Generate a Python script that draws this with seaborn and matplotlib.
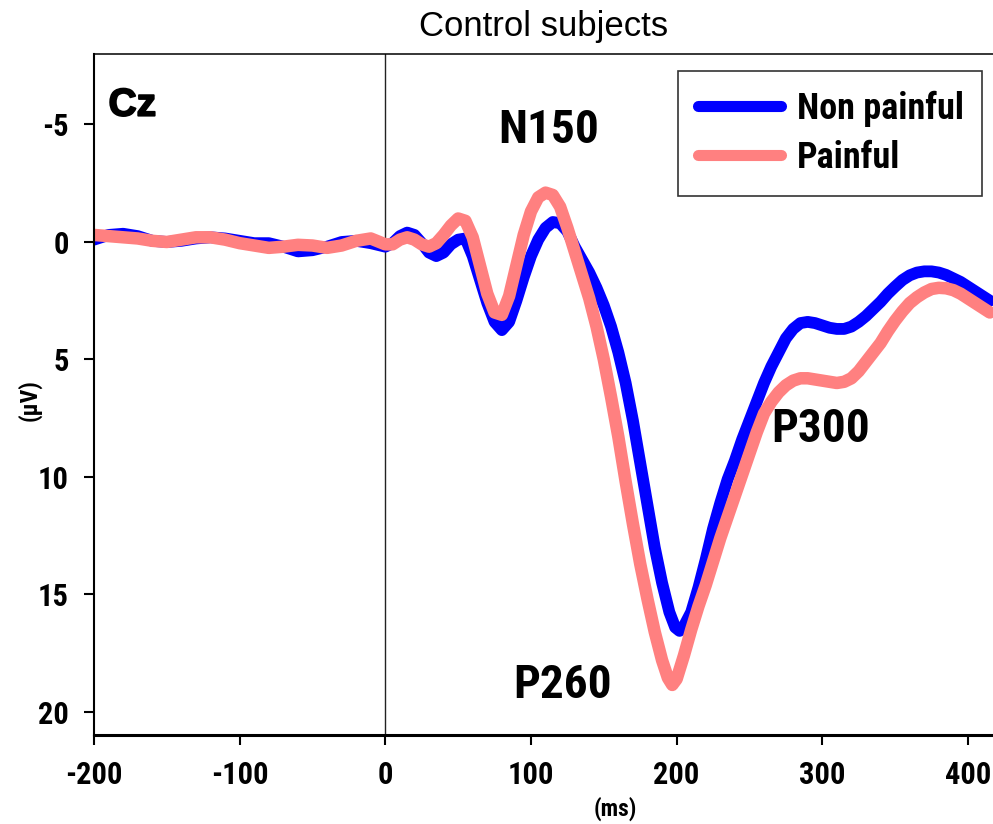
import numpy as np
import pandas as pd
import matplotlib
matplotlib.use("Agg")
import matplotlib.pyplot as plt
import matplotlib.font_manager as fm
import matplotlib.patheffects as pe
import seaborn as sns
from matplotlib.lines import Line2D

# ---- data ----
ms_np = [-200, -190, -180, -170, -160, -150, -140, -130, -120, -110, -100, -90, -80, -70, -60, -50, -40, -30, -20, -10,
         0, 5, 10, 15, 20, 25, 30, 35, 40, 45, 50, 55, 60, 65, 70, 75, 80, 85, 90, 95, 100, 105, 110, 115, 120, 125,
         130, 135, 140, 145, 150, 155, 160, 165, 170, 175, 180, 185, 190, 195, 199, 202, 205, 210, 215, 220, 225, 230, 235,
         240, 245, 250, 255, 260, 265, 270, 275, 280, 285, 290, 295, 300, 305, 310, 315, 320, 325, 330, 335, 340, 345,
         350, 355, 360, 365, 370, 375, 380, 385, 390, 395, 400, 405, 410, 415]
non_painful = [-0.1, -0.3, -0.35, -0.25, -0.05, 0.0, -0.05, -0.15, -0.2, -0.15, -0.05, 0.05, 0.05, 0.2, 0.4, 0.35, 0.2, 0.0, -0.05, 0.05,
               0.2, 0.05, -0.25, -0.4, -0.3, 0.05, 0.45, 0.6, 0.45, 0.1, -0.1, -0.15, 0.6, 1.6, 2.6, 3.4, 3.75, 3.4, 2.5, 1.5, 0.6, -0.1, -0.6, -0.85, -0.8, -0.45,
               0.2, 0.75, 1.3, 1.95, 2.7, 3.6, 4.7, 6.0, 7.6, 9.4, 11.2, 13.0, 14.5, 15.75, 16.4, 16.55, 16.35, 15.75, 14.7, 13.5, 12.2, 11.1, 10.1,
               9.3, 8.4, 7.6, 6.8, 6.0, 5.3, 4.7, 4.1, 3.7, 3.45, 3.4, 3.45, 3.55, 3.65, 3.7, 3.7, 3.6, 3.4, 3.15, 2.85, 2.55, 2.2,
               1.9, 1.62, 1.42, 1.3, 1.25, 1.25, 1.3, 1.4, 1.55, 1.7, 1.9, 2.1, 2.3, 2.5]

ms_p = [-200, -190, -180, -170, -160, -150, -140, -130, -120, -110, -100, -90, -80, -70, -60, -50, -40, -30, -20, -10,
        0, 5, 10, 15, 20, 25, 30, 35, 40, 45, 50, 55, 60, 65, 70, 75, 80, 85, 90, 95, 100, 105, 110, 115, 120, 125,
        130, 135, 140, 145, 150, 155, 160, 165, 170, 175, 180, 185, 190, 194, 197, 200, 205, 210, 215, 220, 225, 230, 235,
        240, 245, 250, 255, 260, 265, 270, 275, 280, 285, 290, 295, 300, 305, 310, 315, 320, 325, 330, 335, 340, 345,
        350, 355, 360, 365, 370, 375, 380, 385, 390, 395, 400, 405, 410, 415]
painful = [-0.3, -0.25, -0.2, -0.15, -0.05, 0.0, -0.1, -0.2, -0.2, -0.1, 0.05, 0.15, 0.25, 0.2, 0.12, 0.15, 0.25, 0.15, -0.05, -0.15,
           0.1, 0.1, -0.1, -0.2, -0.1, 0.1, 0.2, 0.05, -0.3, -0.7, -1.0, -0.9, -0.2, 1.0, 2.2, 3.0, 3.1, 2.3, 1.0, -0.3, -1.3, -1.9, -2.1, -2.0, -1.5, -0.6,
           0.4, 1.4, 2.4, 3.6, 5.0, 6.6, 8.3, 10.2, 12.0, 13.7, 15.2, 16.6, 17.8, 18.55, 18.85, 18.6, 17.6, 16.5, 15.5, 14.6, 13.6, 12.6, 11.7,
           10.8, 9.9, 9.0, 8.1, 7.3, 6.8, 6.4, 6.1, 5.9, 5.8, 5.8, 5.85, 5.9, 5.95, 6.0, 5.95, 5.8, 5.5, 5.1, 4.7, 4.3, 3.8,
           3.35, 2.95, 2.6, 2.35, 2.15, 2.0, 1.95, 1.97, 2.05, 2.2, 2.4, 2.6, 2.8, 3.0]

conditions = ["Non painful", "Painful"]
colors = {"Non painful": "#0000FF", "Painful": "#FF8080"}
x_ticks = [-200, -100, 0, 100, 200, 300, 400]
y_ticks = [-5, 0, 5, 10, 15, 20]
peak_labels = ["N150", "P260", "P300"]

df = pd.DataFrame({
    "ms": ms_np + ms_p,
    "uV": non_painful + painful,
    "condition": [conditions[0]] * len(ms_np) + [conditions[1]] * len(ms_p),
})

sns.set_theme(style="white")
plt.rcParams["font.family"] = ["Liberation Sans", "DejaVu Sans"]
for k in ["text.color", "axes.labelcolor", "xtick.color", "ytick.color", "axes.edgecolor"]:
    plt.rcParams[k] = "black"


# ---- pick fonts ----
def _w(f):
    w = f.weight
    if isinstance(w, str):
        w = fm.weight_dict.get(w, 400)
    return w


def find_bold(names, stretch_ok=False):
    lst = fm.fontManager.ttflist
    for name in names:
        c = [f for f in lst if f.name == name and f.style == "normal"]
        b = sorted([f for f in c if _w(f) >= 600], key=lambda f: abs(_w(f) - 700))
        if b:
            return b[0].fname
    if stretch_ok:
        c = [f for f in lst if f.style == "normal" and f.stretch in ("condensed", "semi-condensed", "extra-condensed")
             and _w(f) >= 600 and f.name in ("Roboto", "Noto Sans", "Open Sans", "Liberation Sans", "Inter", "Lato")]
        c = sorted(c, key=lambda f: abs(_w(f) - 700))
        if c:
            return c[0].fname
    return None


narrow_path = find_bold(["Liberation Sans Narrow", "Arial Narrow", "Roboto Condensed", "Open Sans Condensed",
                         "Noto Sans Condensed"], stretch_ok=True)
arial_bold_path = find_bold(["Liberation Sans", "Arimo"])


def regular_bold(size):
    if arial_bold_path:
        return fm.FontProperties(fname=arial_bold_path, size=size)
    return fm.FontProperties(family=["Liberation Sans", "DejaVu Sans"], weight="bold", size=size)


if narrow_path:
    def bfp(size):
        return fm.FontProperties(fname=narrow_path, size=size)
    s_tick, s_peak, s_leg, s_lab = 22, 34, 26, 17
else:
    def bfp(size):
        return regular_bold(size)
    s_tick, s_peak, s_leg, s_lab = 20, 30, 22, 16

fig = plt.figure(figsize=(9.93, 8.24), dpi=100)
ax = fig.add_axes([94 / 993, 89 / 824, 899 / 993, 681 / 824])

sns.lineplot(data=df[df.condition == "Non painful"], x="ms", y="uV", color=colors["Non painful"],
             linewidth=8.5, ax=ax, legend=False, solid_capstyle="round", solid_joinstyle="round")
sns.lineplot(data=df[df.condition == "Painful"], x="ms", y="uV", color=colors["Painful"],
             linewidth=9, ax=ax, legend=False, solid_capstyle="round", solid_joinstyle="round")

ax.axvline(0, color="#222222", linewidth=1.0, zorder=1)

ax.set_xlim(-200, 417.2)
ax.set_ylim(20.98, -8.0)
ax.set_xticks(x_ticks)
ax.set_yticks(y_ticks)
ax.set_xticklabels([str(t) for t in x_ticks])
ax.set_yticklabels([str(t) for t in y_ticks])
for lbl in ax.get_xticklabels() + ax.get_yticklabels():
    lbl.set_fontproperties(bfp(s_tick))
    lbl.set_color("black")
ax.tick_params(axis="x", direction="out", length=7, width=1.5, pad=11, bottom=True, colors="black")
ax.tick_params(axis="y", direction="out", length=7, width=1.5, pad=11, left=True, colors="black")

for side, lw in [("left", 1.5), ("bottom", 2.2), ("top", 1.1)]:
    ax.spines[side].set_visible(True)
    ax.spines[side].set_color("black")
    ax.spines[side].set_linewidth(lw)
ax.spines["right"].set_visible(False)

ax.set_xlabel("(ms)", fontproperties=bfp(s_lab), color="black")
ax.set_ylabel("(\u03bcV)", fontproperties=bfp(s_lab), color="black")
ax.xaxis.set_label_coords((615 - 94) / 899, (735 - 797) / 681)
ax.yaxis.set_label_coords((42 - 94) / 899, (735 - 400) / 681)

ax.set_title("Control subjects", fontsize=25, family=["Liberation Sans", "DejaVu Sans"], color="black", pad=13)

ax.text(-190, -5.8, "Cz", fontproperties=regular_bold(28), ha="left", va="center", color="black",
        path_effects=[pe.withStroke(linewidth=1.3, foreground="black")])
ax.text(112, -4.75, peak_labels[0], fontproperties=bfp(s_peak), ha="center", va="center", color="black")
ax.text(122, 18.85, peak_labels[1], fontproperties=bfp(s_peak), ha="center", va="center", color="black")
ax.text(299, 7.97, peak_labels[2], fontproperties=bfp(s_peak), ha="center", va="center", color="black")

handles = [Line2D([0], [0], color=colors[c], linewidth=8, solid_capstyle="round") for c in conditions]
leg = ax.legend(handles, conditions, loc="upper left",
                bbox_to_anchor=((678 - 94) / 899, (735 - 71) / 681, (982 - 678) / 899, 0.0001),
                mode="expand", borderaxespad=0, frameon=True, fancybox=False,
                prop=bfp(s_leg), handlelength=2.3, handletextpad=0.45, labelspacing=0.35, borderpad=0.55)
for t in leg.get_texts():
    t.set_color("black")
leg.get_frame().set_edgecolor("black")
leg.get_frame().set_linewidth(1.2)

fig.savefig("out.png", dpi=100)
